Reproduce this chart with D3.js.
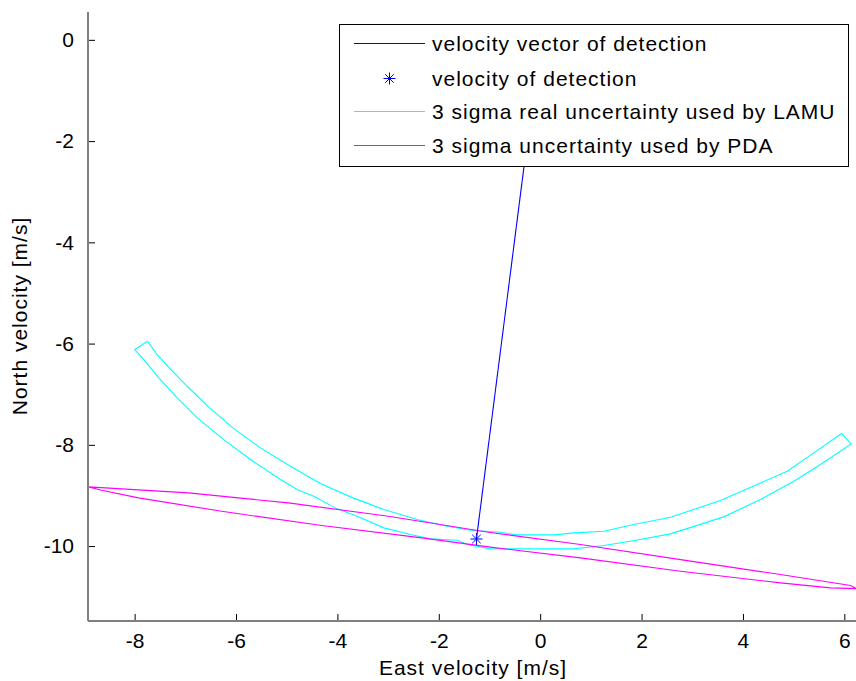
<!DOCTYPE html>
<html>
<head>
<meta charset="utf-8">
<script src="https://cdn.jsdelivr.net/npm/d3@7/dist/d3.min.js"></script>
<style>
  html, body { margin: 0; padding: 0; background: #fff; }
  svg { display: block; font-family: "Liberation Sans", Arial, Helvetica, sans-serif; }
</style>
</head>
<body>
<svg id="chart" width="856" height="681"></svg>
<script>
// Tick values
const xTicks = [-8, -6, -4, -2, 0, 2, 4, 6];
const yTicks = [0, -2, -4, -6, -8, -10];

// Velocity vector: origin -> detected velocity [m/s]
const vectorX = [0, -1.257];
const vectorY = [0, -9.86];
const detectionX = -1.257;
const detectionY = -9.86;

// 3 sigma real uncertainty region (LAMU), closed outline
const lamuX = [-7.747, -7.556, -7.327, -6.964, -6.569, -6.045, -5.518, -4.926, -4.334, -3.742,
  -3.085, -2.427, -1.835, -1.375, -0.783, -0.454, 0.268, 0.663, 1.255, 1.847, 2.571, 3.557,
  4.346, 4.873, 5.397, 5.944,
  6.135,
  5.530, 5.003, 4.346, 3.622, 2.571, 1.781, 1.255, 0.663, -0.980, -1.440, -1.637, -2.164,
  -2.559, -3.085, -3.610, -4.005, -4.466, -4.794, -5.123, -5.715, -6.242, -6.767, -7.161,
  -7.524, -7.820, -7.998];
const lamuY = [-5.954, -6.217, -6.468, -6.843, -7.224, -7.679, -8.060, -8.424, -8.765, -9.028,
  -9.279, -9.476, -9.609, -9.688, -9.727, -9.779, -9.779, -9.739, -9.708, -9.575, -9.431, -9.101,
  -8.752, -8.522, -8.159, -7.777,
  -7.981,
  -8.390, -8.720, -9.081, -9.423, -9.759, -9.905, -9.990, -10.055, -10.055, -9.970, -9.885, -9.858,
  -9.773, -9.640, -9.411, -9.265, -9.016, -8.884, -8.686, -8.291, -7.896, -7.467, -7.072,
  -6.677, -6.316, -6.118];

// 3 sigma uncertainty ellipse (PDA), closed outline
const pdaX = [-8.913, -6.938, -4.966, -2.993, -1.020, 0.795, 2.768, 4.741, 6.122, 6.240,
  5.727, 4.741, 2.768, 0.795, -1.020, -2.336, -4.309, -6.281, -7.925, -8.649];
const pdaY = [-8.830, -8.949, -9.147, -9.411, -9.727, -9.970, -10.267, -10.563, -10.780, -10.840,
  -10.826, -10.727, -10.498, -10.233, -10.016, -9.838, -9.595, -9.313, -9.048, -8.898];

const legendLabels = [
  "velocity vector of detection",
  "velocity of detection",
  "3 sigma real uncertainty used by LAMU",
  "3 sigma uncertainty used by PDA"
];
const colors = { vector: "#0000ff", lamu: "#00ffff", pda: "#ff00ff" };

const svg = d3.select("#chart");
const plot = { left: 88, right: 856, top: 12, bottom: 621 };

const x = d3.scaleLinear().domain([-8.92, 6.23]).range([plot.left, plot.right]);
const y = d3.scaleLinear().domain([-11.48, 0.55]).range([plot.bottom, plot.top]);

svg.append("defs").append("clipPath").attr("id", "clip")
  .append("rect")
  .attr("x", plot.left).attr("y", plot.top)
  .attr("width", plot.right - plot.left).attr("height", plot.bottom - plot.top);

const g = svg.append("g").attr("clip-path", "url(#clip)");

const line = d3.line().x(d => x(d[0])).y(d => y(d[1]));
const closed = (xs, ys) => { const p = xs.map((v, i) => [v, ys[i]]); p.push(p[0]); return p; };

g.append("path")
  .attr("d", line(closed(lamuX, lamuY)))
  .attr("fill", "none").attr("stroke", colors.lamu).attr("stroke-width", 1.1);

g.append("path")
  .attr("d", line(closed(pdaX, pdaY)))
  .attr("fill", "none").attr("stroke", colors.pda).attr("stroke-width", 1.1);

g.append("path")
  .attr("d", line(vectorX.map((v, i) => [v, vectorY[i]])))
  .attr("fill", "none").attr("stroke", colors.vector).attr("stroke-width", 1.1);

// asterisk marker
function asterisk(sel, cx, cy, r) {
  const a = r * 0.7071;
  const segs = [[-r, 0, r, 0], [0, -r, 0, r], [-a, -a, a, a], [-a, a, a, -a]];
  sel.selectAll(null).data(segs).enter().append("line")
    .attr("x1", d => cx + d[0]).attr("y1", d => cy + d[1])
    .attr("x2", d => cx + d[2]).attr("y2", d => cy + d[3])
    .attr("stroke", colors.vector).attr("stroke-width", 1);
}
asterisk(g.append("g"), x(detectionX), y(detectionY), 6);

// Axes
const fontSize = 21;
const xAxis = d3.axisBottom(x).tickValues(xTicks).tickSize(-7).tickPadding(12)
  .tickFormat(d3.format("d"));
const yAxis = d3.axisLeft(y).tickValues(yTicks).tickSize(-7).tickPadding(14)
  .tickFormat(d3.format("d"));

const gx = svg.append("g").attr("transform", `translate(0,${plot.bottom})`).call(xAxis);
const gy = svg.append("g").attr("transform", `translate(${plot.left},0)`).call(yAxis);
[gx, gy].forEach(a => {
  a.select(".domain").remove();
  a.selectAll(".tick line").attr("stroke", "#000").attr("stroke-width", 1);
  a.selectAll(".tick text").attr("font-size", fontSize).attr("fill", "#000")
    .attr("font-family", "Liberation Sans, Arial, sans-serif")
    .text(d => d < 0 ? "-" + Math.abs(d) : String(d));
});
gx.selectAll(".tick text").attr("dy", "0.71em");

svg.append("line").attr("x1", plot.left).attr("x2", plot.right)
  .attr("y1", plot.bottom).attr("y2", plot.bottom)
  .attr("stroke", "#808080").attr("stroke-width", 2);
svg.append("line").attr("x1", plot.left).attr("x2", plot.left)
  .attr("y1", plot.top).attr("y2", plot.bottom)
  .attr("stroke", "#808080").attr("stroke-width", 2);

svg.append("text").attr("x", 473).attr("y", 675)
  .attr("text-anchor", "middle").attr("font-size", fontSize).attr("letter-spacing", 1)
  .attr("fill", "#000")
  .text("East velocity [m/s]");
svg.append("text")
  .attr("transform", "translate(27,316) rotate(-90)")
  .attr("text-anchor", "middle").attr("font-size", fontSize).attr("letter-spacing", 1)
  .attr("fill", "#000")
  .text("North velocity [m/s]");

// Legend
const leg = svg.append("g");
leg.append("rect").attr("x", 339.5).attr("y", 24.5).attr("width", 509).attr("height", 142)
  .attr("fill", "#fff").attr("stroke", "#000").attr("stroke-width", 1);
const rowsY = [43.5, 78.5, 111.5, 145.5];
const rowColors = [colors.vector, null, colors.lamu, colors.pda];
legendLabels.forEach((lab, i) => {
  if (rowColors[i]) {
    leg.append("line").attr("x1", 354).attr("x2", 425).attr("y1", rowsY[i]).attr("y2", rowsY[i])
      .attr("stroke", rowColors[i]).attr("stroke-width", 1);
  } else {
    asterisk(leg.append("g"), 389.5, rowsY[i], 6);
  }
  leg.append("text").attr("x", 432).attr("y", rowsY[i]).attr("dy", "0.35em")
    .attr("font-size", fontSize).attr("letter-spacing", 1)
    .attr("fill", "#000").text(lab);
});
</script>
</body>
</html>
